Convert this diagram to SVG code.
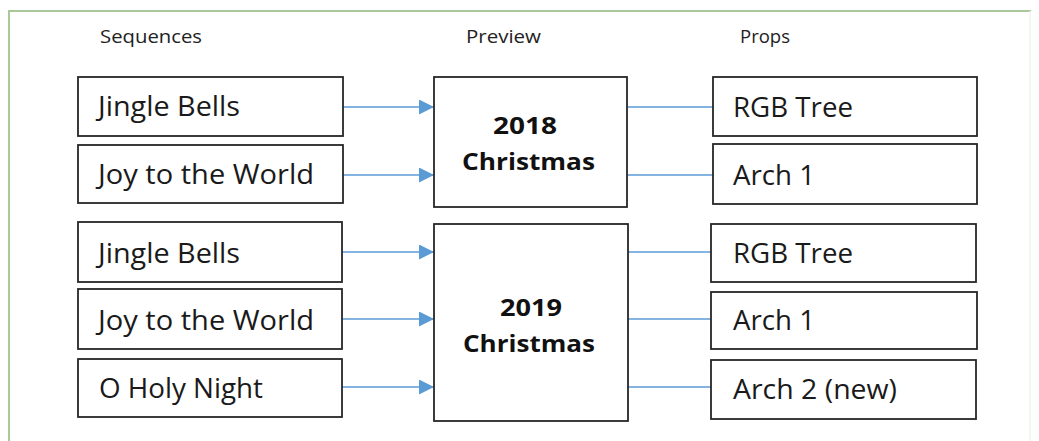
<svg xmlns="http://www.w3.org/2000/svg" width="1039" height="441" viewBox="0 0 1039 441">
<style>
.box{fill:#ffffff;stroke:#262626;stroke-width:1.8}
.t{font-family:"Open Sans","Liberation Sans",sans-serif;font-size:27px;fill:#1a1a1a}
.b{font-family:"Open Sans","Liberation Sans",sans-serif;font-size:24px;font-weight:bold;fill:#111111}
.h{font-family:"Open Sans","Liberation Sans",sans-serif;font-size:18px;fill:#222222}
.c{stroke:#5b9bd5;stroke-width:1.6;fill:none}
</style>
<defs>
<marker id="ah" markerUnits="userSpaceOnUse" markerWidth="16" markerHeight="16" refX="15" refY="7.5" orient="auto">
<path d="M0,0 L15,7.5 L0,15 Z" fill="#5b9bd5"/>
</marker>
</defs>
<rect width="1039" height="441" fill="#ffffff"/>
<g id="frame">
<path d="M9,441 V11 H1031" fill="none" stroke="#a9c99a" stroke-width="2"/>
<line x1="1030" y1="11" x2="1030" y2="441" stroke="#eef3ec" stroke-width="1.5"/>
</g>
<g id="headers">
<text class="h" x="100" y="43" textLength="102" lengthAdjust="spacingAndGlyphs">Sequences</text>
<text class="h" x="466" y="43" textLength="75" lengthAdjust="spacingAndGlyphs">Preview</text>
<text class="h" x="740" y="43" textLength="50" lengthAdjust="spacingAndGlyphs">Props</text>
</g>
<g id="connectors">
<line class="c" x1="343" y1="107" x2="434" y2="107" marker-end="url(#ah)"/>
<line class="c" x1="343" y1="175" x2="434" y2="175" marker-end="url(#ah)"/>
<line class="c" x1="627" y1="107" x2="713" y2="107"/>
<line class="c" x1="627" y1="175" x2="713" y2="175"/>
<line class="c" x1="342" y1="252" x2="434" y2="252" marker-end="url(#ah)"/>
<line class="c" x1="342" y1="319" x2="434" y2="319" marker-end="url(#ah)"/>
<line class="c" x1="342" y1="387" x2="434" y2="387" marker-end="url(#ah)"/>
<line class="c" x1="628" y1="252" x2="711" y2="252"/>
<line class="c" x1="628" y1="319" x2="711" y2="319"/>
<line class="c" x1="628" y1="387" x2="711" y2="387"/>
</g>
<g id="seq-2018-jingle">
<rect class="box" x="78" y="77" width="265" height="59"/>
<text class="t" x="98" y="116" textLength="142" lengthAdjust="spacingAndGlyphs">Jingle Bells</text>
</g>
<g id="seq-2018-joy">
<rect class="box" x="78" y="145" width="265" height="58"/>
<text class="t" x="98" y="184" textLength="216" lengthAdjust="spacingAndGlyphs">Joy to the World</text>
</g>
<g id="preview-2018">
<rect class="box" x="434" y="77" width="193" height="130"/>
<text class="b" x="493" y="134" textLength="64" lengthAdjust="spacingAndGlyphs">2018</text>
<text class="b" x="462" y="170" textLength="133" lengthAdjust="spacingAndGlyphs">Christmas</text>
</g>
<g id="prop-2018-rgb">
<rect class="box" x="713" y="77" width="264" height="59"/>
<text class="t" x="733" y="117" textLength="120" lengthAdjust="spacingAndGlyphs">RGB Tree</text>
</g>
<g id="prop-2018-arch1">
<rect class="box" x="713" y="144" width="264" height="60"/>
<text class="t" x="733" y="185" textLength="82" lengthAdjust="spacingAndGlyphs">Arch 1</text>
</g>
<g id="seq-2019-jingle">
<rect class="box" x="78" y="222" width="264" height="60"/>
<text class="t" x="98" y="263" textLength="142" lengthAdjust="spacingAndGlyphs">Jingle Bells</text>
</g>
<g id="seq-2019-joy">
<rect class="box" x="78" y="289" width="264" height="60"/>
<text class="t" x="98" y="330" textLength="216" lengthAdjust="spacingAndGlyphs">Joy to the World</text>
</g>
<g id="seq-2019-holy">
<rect class="box" x="78" y="359" width="264" height="58"/>
<text class="t" x="99" y="398" textLength="164" lengthAdjust="spacingAndGlyphs">O Holy Night</text>
</g>
<g id="preview-2019">
<rect class="box" x="434" y="224" width="194" height="197"/>
<text class="b" x="500" y="316" textLength="62" lengthAdjust="spacingAndGlyphs">2019</text>
<text class="b" x="463" y="352" textLength="132" lengthAdjust="spacingAndGlyphs">Christmas</text>
</g>
<g id="prop-2019-rgb">
<rect class="box" x="711" y="224" width="265" height="58"/>
<text class="t" x="733" y="263" textLength="120" lengthAdjust="spacingAndGlyphs">RGB Tree</text>
</g>
<g id="prop-2019-arch1">
<rect class="box" x="711" y="292" width="266" height="57"/>
<text class="t" x="733" y="330" textLength="82" lengthAdjust="spacingAndGlyphs">Arch 1</text>
</g>
<g id="prop-2019-arch2">
<rect class="box" x="711" y="360" width="265" height="59"/>
<text class="t" x="733" y="399" textLength="164" lengthAdjust="spacingAndGlyphs">Arch 2 (new)</text>
</g>
</svg>
